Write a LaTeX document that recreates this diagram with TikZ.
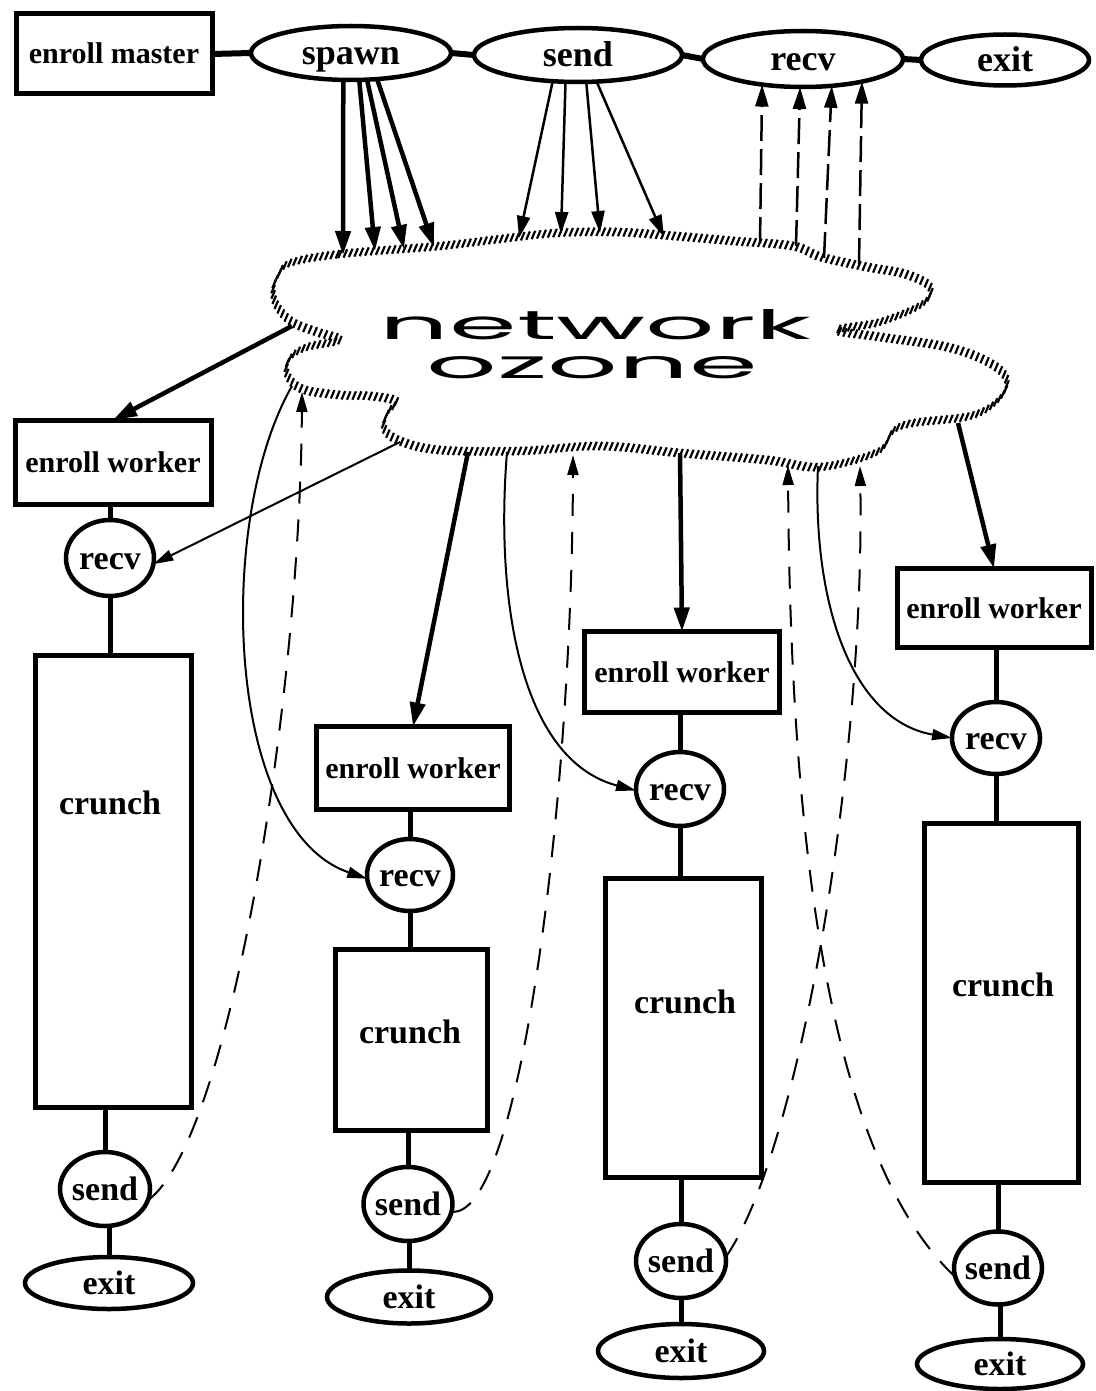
\documentclass[tikz,border=0pt]{standalone}
\usepackage{fontspec}
\usepackage{graphicx}
\setmainfont{Liberation Serif}
\newfontfamily\netfont{Poppins}
\usetikzlibrary{arrows.meta,shapes.geometric,decorations.markings}

\tikzset{
  boxtext/.style={font=\fontsize{30}{32}\selectfont\bfseries, text height=20pt, text depth=0pt},
  ovaltext/.style={font=\fontsize{34}{36}\selectfont\bfseries, text height=23pt, text depth=0pt},
  toptext/.style={font=\fontsize{36}{38}\selectfont\bfseries, text height=24pt, text depth=0pt},
  procbox/.style={draw, rectangle, line width=5pt, inner sep=0pt, outer sep=0pt},
  oval/.style={draw, ellipse, line width=4.5pt, inner sep=-14pt, outer sep=0pt},
  link/.style={line width=5pt},
  toplink/.style={line width=6pt},
  spawnarrow/.style={line width=4.5pt, -{Triangle[length=24pt,width=15pt]}},
  sendarrow/.style={line width=2.5pt, -{Triangle[length=22pt,width=13pt]}},
  recvarrow/.style={line width=2.5pt, dash pattern=on 26pt off 8pt, -{Triangle[length=22pt,width=13pt]}},
  enrollarrow/.style={line width=4.5pt, -{Triangle[length=24pt,width=15pt]}},
  deliverarrow/.style={line width=2pt, -{Triangle[length=20pt,width=11pt]}},
  replyarrow/.style={line width=2pt, dash pattern=on 22pt off 16pt, -{Triangle[length=20pt,width=11pt]}},
  hatchedge/.style={postaction={decorate}, decoration={markings,
      mark=between positions 0 and 1 step 5.4pt with {\pgftransformresetnontranslations
        \draw[line width=2.2pt] (-1.8pt,-4.2pt) -- (1.8pt,4.2pt);}}},
}

\begin{document}
\begin{tikzpicture}[x=1pt,y=-1pt]
\fill[white] (0,0) rectangle (1095,1391);
\useasboundingbox (0,0) rectangle (1095,1391);

% ---------- master process ----------
\node[procbox, boxtext, minimum width=196, minimum height=80] (em) at (114,54) {enroll master};
\node[oval, toptext, minimum width=200, minimum height=54] (spawn) at (351,53) {spawn};
\node[oval, toptext, minimum width=208, minimum height=54] (sendM) at (578,55) {send};
\node[oval, toptext, minimum width=200, minimum height=56] (recvM) at (803,59) {recv};
\node[oval, toptext, minimum width=168, minimum height=51] (exitM) at (1005,60) {exit};

\draw[toplink] (em.east) -- (spawn.west);
\draw[toplink] (spawn.east) -- (sendM.west);
\draw[toplink] (sendM.east) -- (recvM.west);
\draw[toplink] (recvM.east) -- (exitM.west);

% ---------- the network cloud ----------
\path[hatchedge] plot[smooth cycle, tension=0.6] coordinates {
  (290,263) (340,254) (440,246) (500,239) (556,233) (616,232) (675,236)
  (734,241) (793,246) (821,257) (867,267) (905,274) (930,287) (922,304)
  (880,322) (837,330) (880,337) (947,347) (990,363) (1007,381) (997,401)
  (970,416) (913,423) (893,431) (877,452) (820,467) (767,460) (680,453)
  (600,446) (520,451) (440,450) (400,441) (384,428) (388,412) (396,401)
  (370,396) (340,395) (302,389) (287,374) (290,358) (307,347) (340,340)
  (317,332) (292,322) (277,306) (273,290) (278,276)};

\node[anchor=base] (net) at (596,339) {\resizebox{432pt}{30pt}{\netfont network}};
\node[anchor=base] (oz) at (592,378) {\resizebox{331pt}{22pt}{\netfont ozone}};

% points on the cloud edge
\coordinate (sp1) at (343,255);
\coordinate (sp2) at (375,251);
\coordinate (sp3) at (404,249);
\coordinate (sp4) at (434,247);
\coordinate (sd1) at (519,238);
\coordinate (sd2) at (561,234);
\coordinate (sd3) at (600,233);
\coordinate (sd4) at (664,237);
\coordinate (rc1) at (760,243);
\coordinate (rc2) at (796,246);
\coordinate (rc3) at (824,258);
\coordinate (rc4) at (859,264);
\coordinate (w1) at (292,326);
\coordinate (w2) at (468,452);
\coordinate (w3) at (680,453);
\coordinate (w4) at (958,423);
\coordinate (t1) at (400,442);
\coordinate (t2) at (292,386);
\coordinate (t3) at (507,452);
\coordinate (t4) at (818,466);
\coordinate (d1) at (302,392);
\coordinate (d2) at (573,455);
\coordinate (d3) at (788,465);
\coordinate (d4) at (860,466);

% ---------- worker 1 ----------
\node[procbox, boxtext, minimum width=196, minimum height=84] (ew1) at (113,462) {enroll worker};
\node[oval, ovaltext, minimum width=88, minimum height=76] (r1) at (110,558) {recv};
\node[procbox, minimum width=156, minimum height=452] (c1) at (113,881) {};
\node[ovaltext] (c1t) at (110,803) {crunch};
\node[oval, ovaltext, minimum width=90, minimum height=74] (s1) at (105,1189) {send};
\node[oval, ovaltext, minimum width=168, minimum height=52] (e1) at (109,1283) {exit};

% ---------- worker 2 ----------
\node[procbox, boxtext, minimum width=193, minimum height=83] (ew2) at (413,768) {enroll worker};
\node[oval, ovaltext, minimum width=86, minimum height=72] (r2) at (410,875) {recv};
\node[procbox, minimum width=152, minimum height=181] (c2) at (411,1040) {};
\node[ovaltext] (c2t) at (410,1032) {crunch};
\node[oval, ovaltext, minimum width=89, minimum height=74] (s2) at (408,1204) {send};
\node[oval, ovaltext, minimum width=164, minimum height=53] (e2) at (409,1297) {exit};

% ---------- worker 3 ----------
\node[procbox, boxtext, minimum width=195, minimum height=81] (ew3) at (682,672) {enroll worker};
\node[oval, ovaltext, minimum width=88, minimum height=74] (r3) at (680,789) {recv};
\node[procbox, minimum width=156, minimum height=299] (c3) at (683,1028) {};
\node[ovaltext] (c3t) at (685,1002) {crunch};
\node[oval, ovaltext, minimum width=90, minimum height=74] (s3) at (681,1261) {send};
\node[oval, ovaltext, minimum width=166, minimum height=54] (e3) at (681,1351) {exit};

% ---------- worker 4 ----------
\node[procbox, boxtext, minimum width=194, minimum height=79] (ew4) at (994,608) {enroll worker};
\node[oval, ovaltext, minimum width=88, minimum height=72] (r4) at (996,738) {recv};
\node[procbox, minimum width=154, minimum height=359] (c4) at (1001,1003) {};
\node[ovaltext] (c4t) at (1003,985) {crunch};
\node[oval, ovaltext, minimum width=88, minimum height=73] (s4) at (998,1268) {send};
\node[oval, ovaltext, minimum width=166, minimum height=50] (e4) at (1000,1364) {exit};

% vertical links inside each worker
\foreach \i in {1,2,3,4} {
  \draw[link] (r\i.north) -- (r\i.north |- ew\i.south);
  \draw[link] (c\i.north -| r\i.south) -- (r\i.south);
  \draw[link] (s\i.north) -- (s\i.north |- c\i.south);
  \draw[link] (e\i.north) -- (e\i.north |- s\i.south);
}

% ---------- master to network ----------
\draw[spawnarrow] (spawn.-106.6) -- (sp1);
\draw[spawnarrow] (spawn.-73.4) -- (sp2);
\draw[spawnarrow] (spawn.-59) -- (sp3);
\draw[spawnarrow] (spawn.-45.1) -- (sp4);

\draw[sendarrow] (sendM.-134.9) -- (sd1);
\draw[sendarrow] (sendM.-115.9) -- (sd2);
\draw[sendarrow] (sendM.-73.4) -- (sd3);
\draw[sendarrow] (sendM.-55.9) -- (sd4);

\draw[recvarrow] (rc1) -- (recvM.-148.8);
\draw[recvarrow] (rc2) -- (recvM.-96.1);
\draw[recvarrow] (rc3) -- (recvM.-43.8);
\draw[recvarrow] (rc4) -- (recvM.-21.5);

% ---------- network to workers ----------
\draw[enrollarrow] (w1) -- (ew1.north);
\draw[enrollarrow] (w2) -- (ew2.north);
\draw[enrollarrow] (w3) -- (ew3.north);
\draw[enrollarrow] (w4) -- (ew4.north);

\draw[deliverarrow] (t1) -- (r1.-8);
\draw[deliverarrow] (t2) .. controls (215,520) and (225,830) .. (r2.185);
\draw[deliverarrow] (t3) .. controls (495,600) and (520,760) .. (r3.182);
\draw[deliverarrow] (t4) .. controls (812,600) and (850,720) .. (r4.180);

% ---------- workers reply to network ----------
\draw[replyarrow] (s1.-15) .. controls (230,1140) and (300,700) .. (d1);
\draw[replyarrow] (s2.-10) .. controls (520,1220) and (572,800) .. (d2);
\draw[replyarrow] (s3.5) .. controls (800,1150) and (865,760) .. (d4);
\draw[replyarrow] (s4.192) .. controls (820,1150) and (790,800) .. (d3);
\end{tikzpicture}
\end{document}
